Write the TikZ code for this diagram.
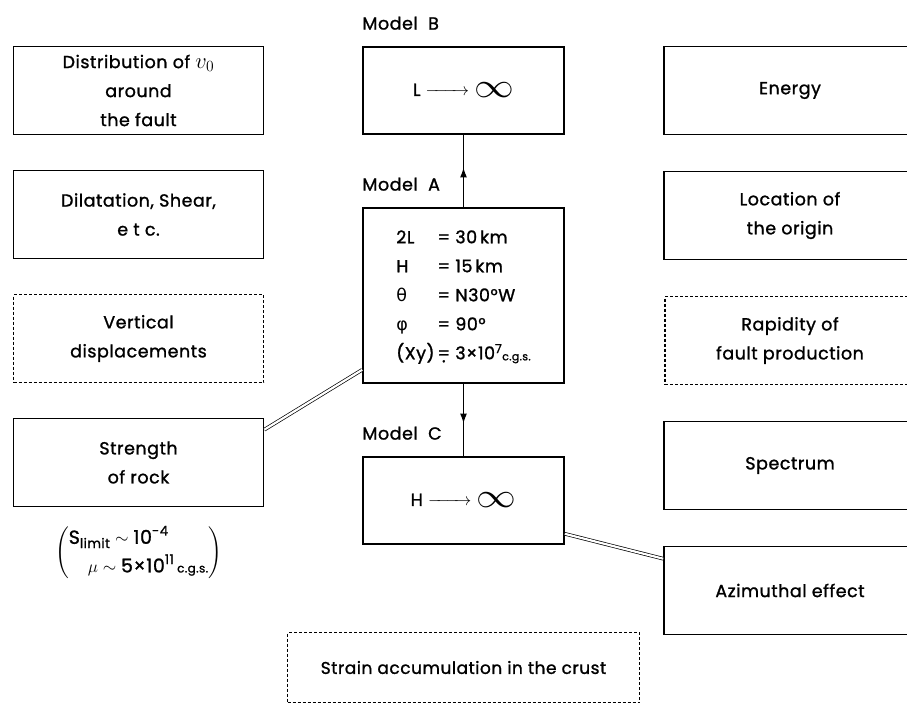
\documentclass[tikz,border=0pt]{standalone}
\usepackage{fontspec}
\setmainfont{Poppins}[LetterSpace=3, FakeBold=1.2]
\newfontfamily\greekfont{DejaVu Sans}
\usepackage{amsmath}
\usetikzlibrary{arrows.meta,decorations.markings,positioning}

\begin{document}
\begin{tikzpicture}[x=1pt, y=-1pt, node distance=325pt,
  every node/.style={font=\fontsize{17.5}{29}\selectfont},
  box/.style={draw, line width=1.6pt, minimum width=250pt, minimum height=88pt, align=center},
  midbox/.style={box, minimum width=201pt, minimum height=87pt},
  rbox/.style={box, minimum width=252pt},
  dbox/.style={box, line width=1.2pt, dash pattern=on 3pt off 2pt},
  modellabel/.style={anchor=west, inner xsep=0pt},
  link/.style={double, double distance=2.2pt, line width=0.7pt},
  midarrow/.style={line width=1.6pt, postaction={decorate},
    decoration={markings, mark=at position 0.55 with {\arrow{Latex[length=10pt,width=7pt]}}}}]

\useasboundingbox (0,0) rectangle (907,704);

% the three models
\node[midbox, minimum height=175pt] (A) at (463.5,295.5) {%
  \begin{tabular}{@{}l@{\hspace{3pt}}l@{}}
  2L & = 30\,km\\
  H & = 15\,km\\
  {\greekfont θ} & = N30°W\\
  {\greekfont φ} & = 90°\\
  (Xy) & \ooalign{=\cr\hfil\raisebox{-3pt}{.}\hfil} 3×10\textsuperscript{7}\raisebox{-1pt}{\fontsize{11}{11}\selectfont c.g.s.}
  \end{tabular}};
\node[midbox] (B) [above of=A, node distance=205pt] {L $\xrightarrow{\hspace{34pt}}$ \raisebox{-2pt}{\scalebox{2.3}[2]{$\infty$}}};
\node[midbox] (C) [below of=A, node distance=205pt] {H $\xrightarrow{\hspace{34pt}}$ \raisebox{-2pt}{\scalebox{2.3}[2]{$\infty$}}};

\node[modellabel] (labB) at ([yshift=23pt]B.north west) {Model\ \ B};
\node[modellabel] (labA) at ([yshift=23pt]A.north west) {Model\ \ A};
\node[modellabel] (labC) at ([yshift=23pt]C.north west) {Model\ \ C};

% left column
\node[box] (Dist) [left of=B] {Distribution of \scalebox{1.3}{$v_0$}\\around\\the fault};
\node[box] (Dil) [below of=Dist, node distance=124pt] {Dilatation, Shear,\\e t c.};
\node[dbox] (Vert) [below of=Dil, node distance=124pt] {Vertical\\displacements};
\node[box] (Str) [below of=Vert, node distance=124pt] {Strength\\of rock};
\node[font=\fontsize{19}{22}\selectfont] (lim) [below of=Str, node distance=90pt] {$\left(\begin{array}{@{}l@{}}
  \text{S}_{\text{limit}}\sim\text{10}^{\text{-4}}\\[4pt]
  \quad\mu\sim\text{5×10}^{\text{11}}\,\text{\fontsize{12}{12}\selectfont c.g.s.}
  \end{array}\right)$};

% right column
\node[rbox] (Energy) [right of=B, node distance=326.5pt] {Energy};
\node[rbox] (Loc) [below of=Energy, node distance=125pt] {Location of\\the origin};
\node[rbox, dbox] (Rap) [below of=Loc, node distance=125pt] {Rapidity of\\fault production};
\node[rbox] (Spec) [below of=Rap, node distance=125pt] {Spectrum};
\node[rbox] (Az) [below of=Spec, node distance=125pt] {Azimuthal effect};

\node[dbox, minimum width=352pt, minimum height=70pt, font=\fontsize{17}{20}\selectfont] (Strain) [below of=C, node distance=167pt] {Strain accumulation in the crust};

% connectors
\draw[link] (Dist) -- (B);
\draw[link] (B) -- (Energy);
\draw[link] (Dil) -- (Dil -| A.west);
\draw[link] (A.east |- Loc) -- (Loc);
\draw[link] ([yshift=-12pt]Str.north east) -- ([yshift=14pt]A.south west);
\draw[link] (C.east |- Spec) -- (Spec);
\draw[link] ([yshift=11pt]C.south east) -- ([yshift=-13pt]Az.north west);
\draw[midarrow] (A) -- (B);
\draw[midarrow] (A) -- (C);

\end{tikzpicture}
\end{document}
